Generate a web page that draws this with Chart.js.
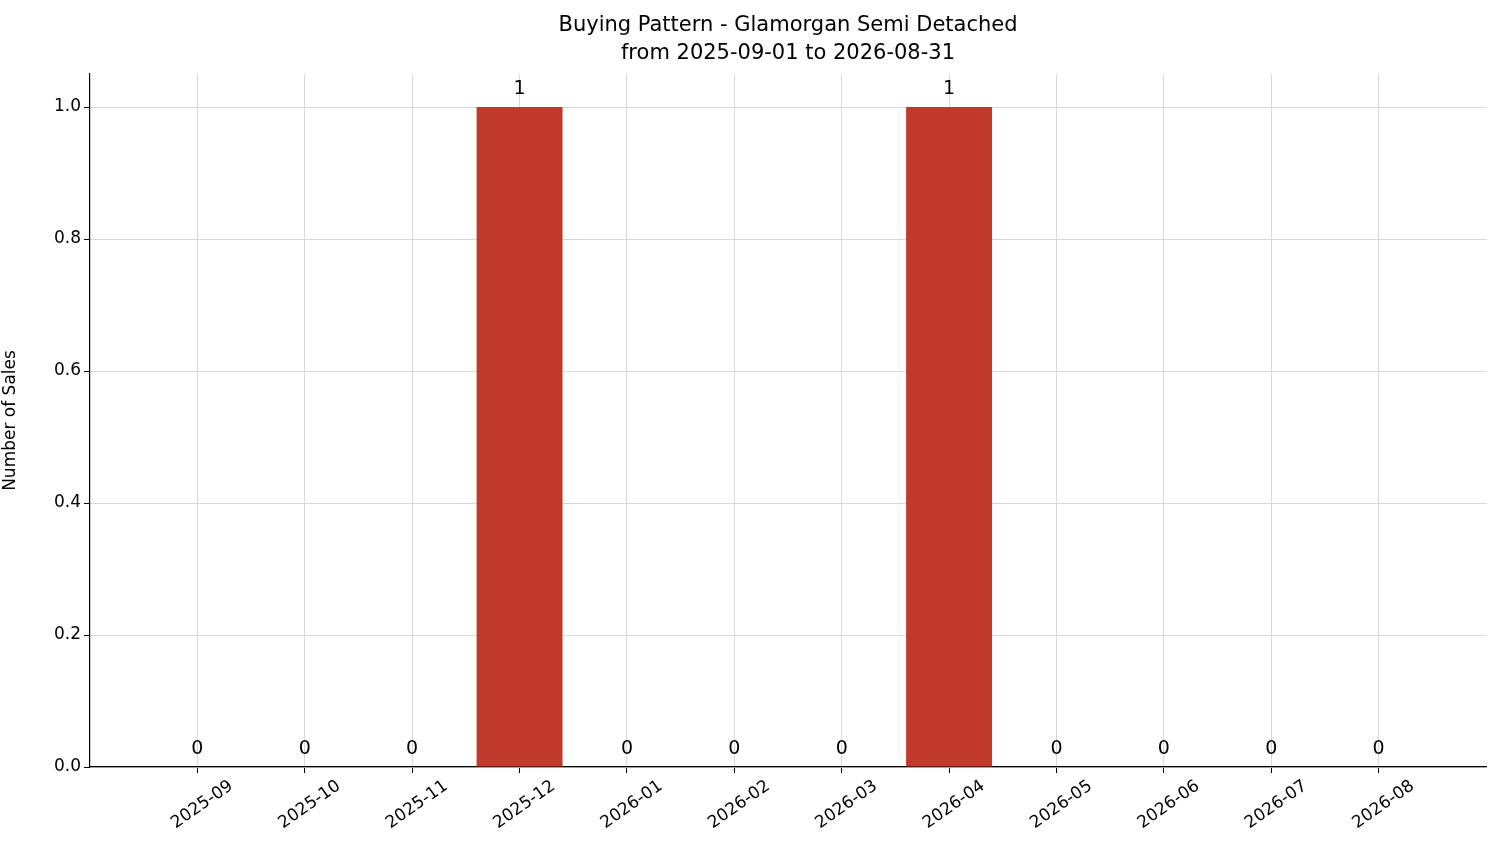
<!DOCTYPE html>
<html><head><meta charset="utf-8">
<script src="https://cdn.jsdelivr.net/npm/chart.js@4"></script>
<style>html,body{margin:0;padding:0;background:#fff}#w{width:1501px;height:863px}</style>
</head><body><div id="w"><canvas id="c"></canvas></div>
<script>
const categories = ["2025-09","2025-10","2025-11","2025-12","2026-01","2026-02","2026-03","2026-04","2026-05","2026-06","2026-07","2026-08"];
const sales = [0,0,0,1,0,0,0,1,0,0,0,0];
const yTicks = [0,0.2,0.4,0.6,0.8,1.0];
const titleLines = ["Buying Pattern - Glamorgan Semi Detached","from 2025-09-01 to 2026-08-31"];
const FONT = "'DejaVu Sans', sans-serif";

const overlay = {
  id:'overlay',
  afterDatasetsDraw(chart){
    const ctx=chart.ctx, xs=chart.scales.x, ys=chart.scales.y;
    ctx.save();
    ctx.fillStyle='#000'; ctx.font='19px '+FONT; ctx.textAlign='center'; ctx.textBaseline='bottom';
    sales.forEach((v,i)=>{ ctx.fillText(String(v), xs.getPixelForValue(i), ys.getPixelForValue(v)-8); });
    const cx=(chart.chartArea.left+chart.chartArea.right)/2;
    ctx.font='21px '+FONT; ctx.textBaseline='middle';
    ctx.fillText(titleLines[0], cx, 26);
    ctx.fillText(titleLines[1], cx, 54);
    ctx.restore();
  }
};

new Chart(document.getElementById('c'),{
  type:'bar',
  data:{datasets:[{data:sales.map((v,i)=>({x:i,y:v})),backgroundColor:'#c0392b',categoryPercentage:0.8,barPercentage:1}]},
  options:{
    responsive:true,maintainAspectRatio:false,animation:false,
    layout:{padding:{top:74,right:15,left:0,bottom:0}},
    plugins:{legend:{display:false},tooltip:{enabled:false},title:{display:false}},
    scales:{
      x:{type:'linear',min:-1,max:12,offset:false,
        afterBuildTicks(s){s.ticks=categories.map((c,i)=>({value:i}));},
        afterFit(s){s.height=96;},
        ticks:{autoSkip:false,maxRotation:35,minRotation:35,labelOffset:34,color:'#000',font:{family:FONT,size:17},
          callback:(v)=>categories[v]??''},
        grid:{offset:false,color:'#d8d8d8',tickLength:6,tickColor:'#000',drawTicks:true},
        border:{display:true,color:'#000',width:1.2}
      },
      y:{min:0,max:1.05,
        afterBuildTicks(s){s.ticks=yTicks.map(v=>({value:v}));},
        afterFit(s){s.width=90;},
        title:{display:true,text:'Number of Sales',color:'#000',font:{family:FONT,size:17},padding:{top:0,bottom:0}},
        ticks:{color:'#000',font:{family:FONT,size:17},callback:v=>v.toFixed(1)},
        grid:{color:'#d8d8d8',tickLength:6,tickColor:'#000'},
        border:{display:true,color:'#000',width:1.2}
      }
    }
  },
  plugins:[overlay]
});
</script></body></html>
